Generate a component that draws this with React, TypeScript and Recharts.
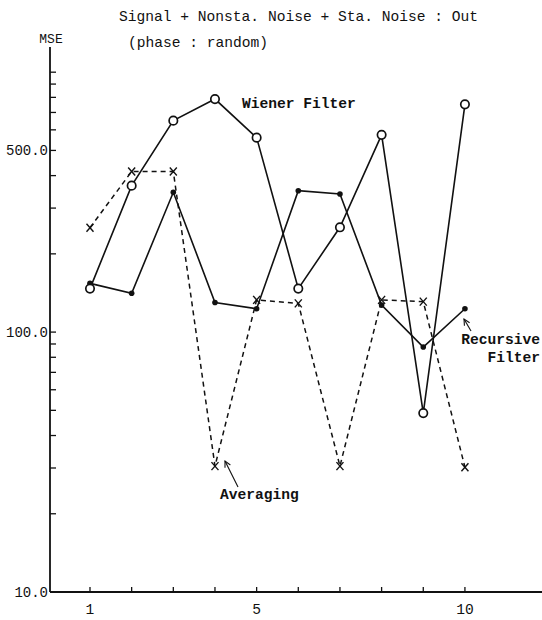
import React from "react";
import { LineChart, Line, XAxis, YAxis } from "recharts";

// filter order / trial index on the x axis
const steps = [1, 2, 3, 4, 5, 6, 7, 8, 9, 10];

// mean squared error per method
const wienerMse = [147, 366, 651, 788, 560, 147, 253, 574, 48.8, 752];
const recursiveMse = [154, 141, 345, 130, 123, 350, 340, 127, 87.6, 123];
const averagingMse = [252, 415, 415, 30.5, 133, 129, 30.5, 133, 131, 30.2];

const yTickValues = [
  10, 20, 30, 40, 50, 60, 70, 80, 90, 100, 200, 300, 400, 500, 600, 700, 800,
  900, 1000,
];
const yTickLabels: Record<number, string> = {
  10: "10.0",
  100: "100.0",
  500: "500.0",
};
const xTickLabels = [1, 5, 10];

const data = steps.map((step, i) => ({
  step,
  wiener: wienerMse[i],
  recursive: recursiveMse[i],
  averaging: averagingMse[i],
}));

const FONT = "'Liberation Mono', 'DejaVu Sans Mono', monospace";
const INK = "#111";

function XTick({ x, y, payload }: any) {
  return (
    <g>
      <line x1={x} y1={y} x2={x} y2={y - 5} stroke={INK} strokeWidth={1.3} />
      {xTickLabels.includes(payload.value) && (
        <text
          x={x}
          y={y + 22}
          textAnchor="middle"
          fontFamily={FONT}
          fontSize={14.6}
          fill={INK}
        >
          {payload.value}
        </text>
      )}
    </g>
  );
}

function YTick({ x, y, payload }: any) {
  const label = yTickLabels[payload.value];
  return (
    <g>
      <line x1={x} y1={y} x2={x + 6} y2={y} stroke={INK} strokeWidth={1.3} />
      {label && (
        <text
          x={x - 2}
          y={y + 5}
          textAnchor="end"
          fontFamily={FONT}
          fontSize={14}
          fill={INK}
        >
          {label}
        </text>
      )}
    </g>
  );
}

const OpenCircle = ({ cx, cy, index }: any) => (
  <circle
    key={`w-${index}`}
    cx={cx}
    cy={cy}
    r={4.2}
    fill="#fff"
    stroke={INK}
    strokeWidth={1.7}
  />
);

const FilledDot = ({ cx, cy, index }: any) => (
  <circle key={`r-${index}`} cx={cx} cy={cy} r={2.8} fill={INK} />
);

const Cross = ({ cx, cy, index }: any) => (
  <g key={`a-${index}`}>
    <line x1={cx - 3.5} y1={cy - 4} x2={cx + 3.5} y2={cy + 4} stroke={INK} strokeWidth={1.4} />
    <line x1={cx + 3.5} y1={cy - 4} x2={cx - 3.5} y2={cy + 4} stroke={INK} strokeWidth={1.4} />
  </g>
);

function Arrow({ x1, y1, x2, y2 }: { x1: number; y1: number; x2: number; y2: number }) {
  const len = Math.hypot(x2 - x1, y2 - y1);
  const ux = (x2 - x1) / len;
  const uy = (y2 - y1) / len;
  const bx = x2 - ux * 6;
  const by = y2 - uy * 6;
  return (
    <g stroke={INK} strokeWidth={1.1} fill="none">
      <line x1={x1} y1={y1} x2={x2} y2={y2} />
      <polyline
        points={`${bx - uy * 3},${by + ux * 3} ${x2},${y2} ${bx + uy * 3},${by - ux * 3}`}
      />
    </g>
  );
}

export default function App() {
  return (
    <div
      style={{
        position: "relative",
        width: 542,
        height: 620,
        background: "#fff",
      }}
    >
      <style>{"body { margin: 0; }"}</style>
      <LineChart
        width={542}
        height={620}
        data={data}
        margin={{ top: 47, right: 0, left: 0, bottom: 0 }}
      >
        <XAxis
          dataKey="step"
          type="number"
          domain={[0.04, 11.85]}
          allowDataOverflow
          ticks={steps}
          interval={0}
          height={28}
          tickSize={0}
          tickMargin={0}
          tickLine={false}
          axisLine={{ stroke: INK, strokeWidth: 1.8 }}
          tick={(props: any) => <XTick {...props} />}
        />
        <YAxis
          scale="log"
          type="number"
          domain={[10, 1250]}
          allowDataOverflow
          ticks={yTickValues}
          interval={0}
          width={50}
          tickSize={0}
          tickMargin={0}
          tickLine={false}
          axisLine={{ stroke: INK, strokeWidth: 1.8 }}
          tick={(props: any) => <YTick {...props} />}
        />
        <Line
          dataKey="averaging"
          stroke={INK}
          strokeWidth={1.5}
          strokeDasharray="5 4"
          dot={Cross}
          isAnimationActive={false}
        />
        <Line
          dataKey="recursive"
          stroke={INK}
          strokeWidth={1.6}
          dot={FilledDot}
          isAnimationActive={false}
        />
        <Line
          dataKey="wiener"
          stroke={INK}
          strokeWidth={1.6}
          dot={OpenCircle}
          isAnimationActive={false}
        />
      </LineChart>

      {/* titles and series annotations */}
      <svg
        width={542}
        height={620}
        style={{ position: "absolute", left: 0, top: 0, pointerEvents: "none" }}
        fontFamily={FONT}
        fill={INK}
      >
        <text x={119} y={21} fontSize={14.6}>
          Signal + Nonsta. Noise + Sta. Noise : Out
        </text>
        <text x={128} y={47} fontSize={14.6}>
          (phase : random)
        </text>
        <text x={51} y={43} fontSize={13} textAnchor="middle">
          MSE
        </text>
        <text x={242} y={108} fontSize={14.6} fontWeight="bold">
          Wiener Filter
        </text>
        <text x={540} y={344} fontSize={14.6} fontWeight="bold" textAnchor="end">
          Recursive
        </text>
        <text x={540} y={362} fontSize={14.6} fontWeight="bold" textAnchor="end">
          Filter
        </text>
        <text x={220} y={499} fontSize={14.6} fontWeight="bold">
          Averaging
        </text>
        <Arrow x1={471} y1={331} x2={464} y2={319} />
        <Arrow x1={238} y1={487} x2={225} y2={461} />
      </svg>
    </div>
  );
}
